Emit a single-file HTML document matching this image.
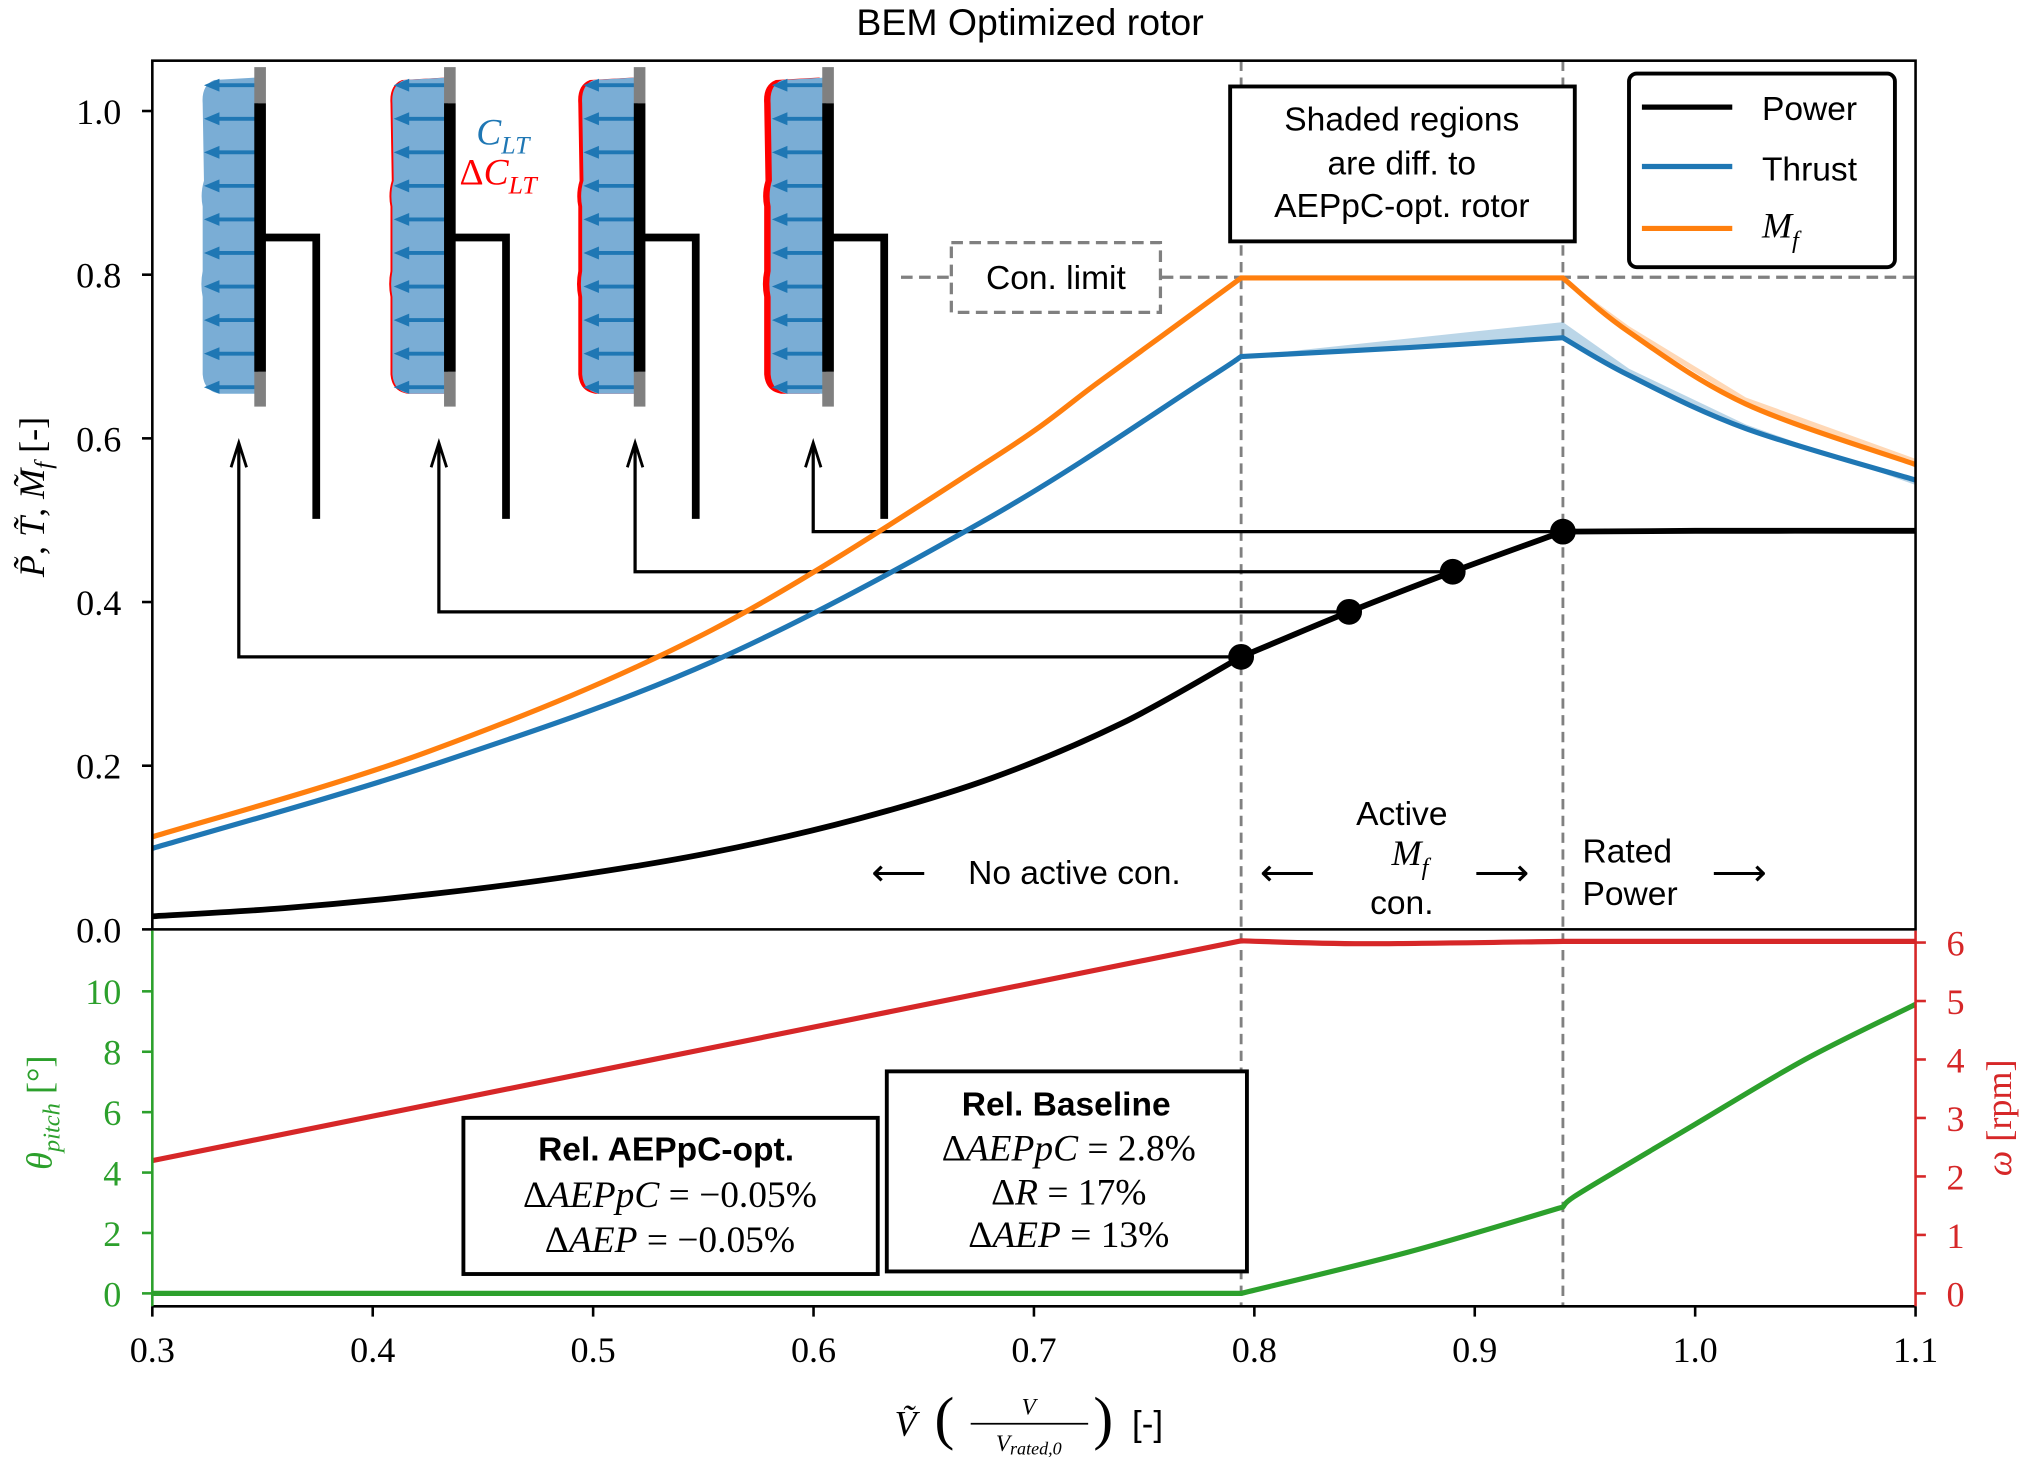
<!DOCTYPE html>
<html><head><meta charset="utf-8"><style>
html,body{margin:0;padding:0;background:#fff;}
svg{display:block;}
.sans{font-family:"Liberation Sans",sans-serif;}
.serif{font-family:"Liberation Serif",serif;}
</style></head><body>
<svg id="chart" xmlns="http://www.w3.org/2000/svg" width="2024" height="1463" viewBox="0 0 1568 1133.4">
<rect x="0" y="0" width="1568" height="1134" fill="#fff"/>
<text class="sans" x="798" y="27" font-size="29" text-anchor="middle">BEM Optimized rotor</text>
<g id="icons"></g>
<g id="plots"></g>
<rect x="953" y="67" width="267" height="120" fill="#fff" stroke="#000" stroke-width="3"/>
<text class="sans" font-size="26" text-anchor="middle"><tspan x="1086" y="101">Shaded regions</tspan><tspan x="1086" y="135">are diff. to</tspan><tspan x="1086" y="168">AEPpC-opt. rotor</tspan></text>
<rect x="737" y="188" width="162" height="54" fill="#fff" stroke="#808080" stroke-width="2.5" stroke-dasharray="9,5"/>
<text class="sans" x="818" y="224" font-size="26" text-anchor="middle">Con. limit</text>
<g>
<rect x="1262" y="57" width="206" height="150" rx="6" fill="#fff" stroke="#000" stroke-width="3"/>
<line x1="1272" y1="83" x2="1342" y2="83" stroke="#000" stroke-width="4"/>
<text class="sans" x="1365" y="93" font-size="26">Power</text>
<line x1="1272" y1="129" x2="1342" y2="129" stroke="#1f77b4" stroke-width="4"/>
<text class="sans" x="1365" y="140" font-size="26">Thrust</text>
<line x1="1272" y1="177" x2="1342" y2="177" stroke="#ff7f0e" stroke-width="4"/>
<text class="serif" x="1365" y="184" font-size="28" font-style="italic">M<tspan font-size="19" dy="8">f</tspan></text>
</g>
<text class="serif" x="369" y="112" font-size="29" font-style="italic" fill="#1f77b4">C<tspan font-size="20" dy="7">LT</tspan></text>
<text class="serif" x="356" y="143" font-size="29" fill="#ff0000"><tspan font-style="normal">Δ</tspan><tspan font-style="italic">C</tspan><tspan font-size="20" dy="7" font-style="italic">LT</tspan></text>
<g class="sans" font-size="26">
<text x="750" y="685">No active con.</text>
<text x="675" y="686" font-size="30">⟵</text>
<text x="1086" y="639" text-anchor="middle">Active</text>
<text class="serif" x="1078" y="670" font-size="28" font-style="italic">M<tspan font-size="19" dy="8">f</tspan></text>
<text x="1086" y="708" text-anchor="middle">con.</text>
<text x="976" y="686" font-size="30">⟵</text>
<text x="1142" y="686" font-size="30">⟶</text>
<text x="1226" y="668">Rated</text>
<text x="1226" y="701">Power</text>
<text x="1326" y="686" font-size="30">⟶</text>
</g>
<rect x="359" y="866" width="321" height="121" fill="#fff" stroke="#000" stroke-width="3"/>
<text class="sans" x="516" y="899" font-size="26" font-weight="bold" text-anchor="middle">Rel.  AEPpC-opt.</text>
<text class="serif" x="519" y="935" font-size="29" text-anchor="middle">Δ<tspan font-style="italic">AEPpC</tspan> = −0.05%</text>
<text class="serif" x="519" y="970" font-size="29" text-anchor="middle">Δ<tspan font-style="italic">AEP</tspan> = −0.05%</text>
<rect x="687" y="830" width="279" height="155" fill="#fff" stroke="#000" stroke-width="3"/>
<text class="sans" x="826" y="864" font-size="26" font-weight="bold" text-anchor="middle">Rel.  Baseline</text>
<text class="serif" x="828" y="899" font-size="29" text-anchor="middle">Δ<tspan font-style="italic">AEPpC</tspan> = 2.8%</text>
<text class="serif" x="828" y="933" font-size="29" text-anchor="middle">Δ<tspan font-style="italic">R</tspan> = 17%</text>
<text class="serif" x="828" y="966" font-size="29" text-anchor="middle">Δ<tspan font-style="italic">AEP</tspan> = 13%</text>
<text class="serif" transform="translate(34,385) rotate(-90)" font-size="28" text-anchor="middle"><tspan font-style="italic">P̃</tspan>, <tspan font-style="italic">T̃</tspan>, <tspan font-style="italic">M̃</tspan><tspan font-style="italic" font-size="19" dy="6">f</tspan><tspan dy="-6"> [-]</tspan></text>
<text class="serif" transform="translate(40,862) rotate(-90)" font-size="28" text-anchor="middle" fill="#2ca02c"><tspan font-style="italic">θ</tspan><tspan font-style="italic" font-size="19" dy="6">pitch</tspan><tspan dy="-6"> [°]</tspan></text>
<text class="serif" transform="translate(1558,866) rotate(-90)" font-size="28" text-anchor="middle" fill="#d62728"><tspan font-style="italic">ω</tspan> [rpm]</text>
<g class="serif" font-size="28">
<text x="693" y="1112" font-style="italic">Ṽ</text>
<text x="724" y="1114" font-size="46">(</text>
<text x="797" y="1096" font-size="18" font-style="italic" text-anchor="middle">V</text>
<line x1="752" y1="1103" x2="843" y2="1103" stroke="#000" stroke-width="1.3"/>
<text x="797" y="1124" font-size="18" font-style="italic" text-anchor="middle">V<tspan font-size="14" dy="3">rated,0</tspan></text>
<text x="847" y="1114" font-size="46">)</text>
<text x="877" y="1112" class="sans" font-size="27">[-]</text>
</g>
</svg>
<script>
// ---------- data ----------
const powerV = [0.3, 0.36, 0.426, 0.49, 0.554, 0.62, 0.681, 0.74, 0.794, 0.843, 0.89, 0.94, 1.0, 1.1];
const powerVals = [0.016, 0.026, 0.043, 0.065, 0.094, 0.135, 0.185, 0.252, 0.333, 0.388, 0.437, 0.486, 0.487, 0.487];
const thrustV = [0.3, 0.426, 0.554, 0.681, 0.776, 0.794, 0.87, 0.94, 0.97, 1.023, 1.1];
const thrustVals = [0.099, 0.200, 0.327, 0.505, 0.668, 0.700, 0.711, 0.723, 0.677, 0.612, 0.549];
const thrustUpper = [0.099, 0.200, 0.327, 0.505, 0.668, 0.700, 0.722, 0.742, 0.685, 0.617, 0.543];
const mfV = [0.3, 0.426, 0.554, 0.681, 0.731, 0.794, 0.87, 0.94, 0.97, 1.023, 1.1];
const mfVals = [0.113, 0.218, 0.366, 0.575, 0.672, 0.796, 0.796, 0.796, 0.730, 0.642, 0.568];
const mfUpper = [0.113, 0.218, 0.366, 0.575, 0.672, 0.796, 0.796, 0.796, 0.737, 0.650, 0.575];
const dotV = [0.794, 0.843, 0.89, 0.94];
const dotP = [0.333, 0.388, 0.437, 0.486];
const omegaV = [0.3, 0.794, 0.85, 0.94, 1.1];
const omegaVals = [2.27, 6.03, 5.98, 6.02, 6.02];
const pitchV = [0.3, 0.794, 0.87, 0.94, 0.945, 0.97, 1.0, 1.05, 1.1];
const pitchVals = [0, 0, 1.37, 2.86, 3.2, 4.3, 5.6, 7.75, 9.57];
const xTicks = [0.3, 0.4, 0.5, 0.6, 0.7, 0.8, 0.9, 1.0, 1.1];
const xTickLabels = ["0.3","0.4","0.5","0.6","0.7","0.8","0.9","1.0","1.1"];
const topTicks = [0, 0.2, 0.4, 0.6, 0.8, 1.0];
const topTickLabels = ["0.0","0.2","0.4","0.6","0.8","1.0"];
const pitchTicks = [0, 2, 4, 6, 8, 10];
const omegaTicks = [0, 1, 2, 3, 4, 5, 6];
const regionBreaks = [0.794, 0.94];
const conLimit = 0.8;

// ---------- axes ----------
const X0 = 118, X1 = 1484;
const xs = v => X0 + (v - 0.3) / 0.8 * (X1 - X0);
const yTop = v => 720 - 634 * v;
const yPitch = v => 1002 - 23.4 * v;
const yOmega = v => 1002 - 45.3 * v;
const NS = "http://www.w3.org/2000/svg";
const plots = document.getElementById('plots');
const icons = document.getElementById('icons');
function mk(tag, attrs, parent) {
  const e = document.createElementNS(NS, tag);
  for (const k in attrs) e.setAttribute(k, attrs[k]);
  (parent || plots).appendChild(e);
  return e;
}
function segPath(pts) {
  let d = "";
  for (let i = 0; i < pts.length - 1; i++) {
    const p0 = pts[Math.max(0, i - 1)], p1 = pts[i], p2 = pts[i + 1], p3 = pts[Math.min(pts.length - 1, i + 2)];
    const c1 = [p1[0] + (p2[0] - p0[0]) / 6, p1[1] + (p2[1] - p0[1]) / 6];
    const c2 = [p2[0] - (p3[0] - p1[0]) / 6, p2[1] - (p3[1] - p1[1]) / 6];
    d += (i === 0 ? "M" + p1[0] + "," + p1[1] : "") + "C" + c1[0] + "," + c1[1] + " " + c2[0] + "," + c2[1] + " " + p2[0] + "," + p2[1];
  }
  return d;
}
function curvePath(vArr, vals, yf) {
  const segs = [[]];
  vArr.forEach((v, i) => {
    const p = [xs(v), yf(vals[i])];
    segs[segs.length - 1].push(p);
    if (regionBreaks.some(b => Math.abs(b - v) < 1e-9) && i < vArr.length - 1) segs.push([p]);
  });
  return segs.map((s, k) => {
    const d = segPath(s);
    return k === 0 ? d : d.replace(/^M[^C]*/, "L" + s[0][0] + "," + s[0][1]);
  }).join("");
}
function bandPath(vArr, lo, hi, yf) {
  let d = "M";
  vArr.forEach((v, i) => { d += xs(v) + "," + yf(hi[i]) + " L"; });
  for (let i = vArr.length - 1; i >= 0; i--) d += xs(vArr[i]) + "," + yf(lo[i]) + (i > 0 ? " L" : "Z");
  return d;
}

regionBreaks.forEach((b, i) => {
  const l = mk('line', {x1: xs(b), y1: 47, x2: xs(b), y2: 1012, stroke: '#808080', 'stroke-width': 2.2, 'stroke-dasharray': '8,5'});
  
  
});
const cl = mk('line', {x1: 900, y1: yTop(conLimit) + 2, x2: X1, y2: yTop(conLimit) + 2, stroke: '#808080', 'stroke-width': 2.5, 'stroke-dasharray': '9,5'});


const cl2 = mk('line', {x1: 698, y1: yTop(conLimit) + 2, x2: 737, y2: yTop(conLimit) + 2, stroke: '#808080', 'stroke-width': 2.5, 'stroke-dasharray': '9,5'});



const tb = mk('path', {d: bandPath(thrustV, thrustVals, thrustUpper, yTop), fill: '#1f77b4', 'fill-opacity': 0.3});


const mb = mk('path', {d: bandPath(mfV, mfVals, mfUpper, yTop), fill: '#ff7f0e', 'fill-opacity': 0.3});



const iconX = [185, 340, 492, 630];
dotV.forEach((v, i) => {
  const y = yTop(dotP[i]);
  const g = mk('path', {d: "M" + xs(v) + "," + y + " L" + iconX[i] + "," + y + " L" + iconX[i] + ",345", fill: 'none', stroke: '#000', 'stroke-width': 2.5});
  
  
  const h = mk('path', {d: "M" + (iconX[i] - 6) + ",362 L" + iconX[i] + ",343 L" + (iconX[i] + 6) + ",362", fill: 'none', stroke: '#000', 'stroke-width': 2.2});
  
  
});

const mfLine = mk('path', {d: curvePath(mfV, mfVals, yTop), fill: 'none', stroke: '#ff7f0e', 'stroke-width': 4});


const thLine = mk('path', {d: curvePath(thrustV, thrustVals, yTop), fill: 'none', stroke: '#1f77b4', 'stroke-width': 4});


const pwLine = mk('path', {d: curvePath(powerV, powerVals, yTop), fill: 'none', stroke: '#000', 'stroke-width': 4.5});


dotV.forEach((v, i) => {
  const c = mk('circle', {cx: xs(v), cy: yTop(dotP[i]), r: 10, fill: '#000'});
  
  
});
const omLine = mk('path', {d: curvePath(omegaV, omegaVals, yOmega), fill: 'none', stroke: '#d62728', 'stroke-width': 4});


const ptLine = mk('path', {d: curvePath(pitchV, pitchVals, yPitch), fill: 'none', stroke: '#2ca02c', 'stroke-width': 4});



const topFrame = mk('rect', {x: X0, y: 47, width: X1 - X0, height: 673, fill: 'none', stroke: '#000', 'stroke-width': 2});


const botSpine = mk('line', {x1: X0, y1: 1012, x2: X1, y2: 1012, stroke: '#000', 'stroke-width': 2});


const lSpine = mk('line', {x1: X0, y1: 721, x2: X0, y2: 1012, stroke: '#2ca02c', 'stroke-width': 2});


const rSpine = mk('line', {x1: X1, y1: 721, x2: X1, y2: 1012, stroke: '#d62728', 'stroke-width': 2});



xTicks.forEach((v, i) => {
  mk('line', {x1: xs(v), y1: 1012, x2: xs(v), y2: 1020, stroke: '#000', 'stroke-width': 2});
  const t = mk('text', {x: xs(v), y: 1055, 'font-size': 28, 'text-anchor': 'middle', class: 'serif'});
  t.textContent = xTickLabels[i];
  
  
});
topTicks.forEach((v, i) => {
  mk('line', {x1: X0 - 8, y1: yTop(v), x2: X0, y2: yTop(v), stroke: '#000', 'stroke-width': 2});
  const t = mk('text', {x: 94, y: yTop(v) + 10, 'font-size': 28, 'text-anchor': 'end', class: 'serif'});
  t.textContent = topTickLabels[i];
  
  
});
pitchTicks.forEach(v => {
  mk('line', {x1: X0 - 8, y1: yPitch(v), x2: X0, y2: yPitch(v), stroke: '#2ca02c', 'stroke-width': 2});
  const t = mk('text', {x: 94, y: yPitch(v) + 10, 'font-size': 28, 'text-anchor': 'end', class: 'serif', fill: '#2ca02c'});
  t.textContent = String(v);
  
  
});
omegaTicks.forEach(v => {
  mk('line', {x1: X1, y1: yOmega(v), x2: X1 + 8, y2: yOmega(v), stroke: '#d62728', 'stroke-width': 2});
  const t = mk('text', {x: 1508, y: yOmega(v) + 10, 'font-size': 28, class: 'serif', fill: '#d62728'});
  t.textContent = String(v);
  
  
});

const iconCenters = [200, 347, 494, 640];
const redWidth = [0, 1.5, 3, 5];
iconCenters.forEach((cx, i) => {
  const g = mk('g', {}, icons);
  
  
  const L = cx - 44;
  const shape = "M" + cx + ",60 L" + (L + 10) + ",62 Q" + L + ",66 " + (L + 1) + ",80 L" + (L + 2) + ",140 Q" + (L - 1) + ",150 " + (L + 1) + ",160 L" + (L + 1) + ",210 Q" + (L - 1) + ",220 " + (L + 1) + ",230 L" + (L + 1) + ",290 Q" + (L + 2) + ",303 " + (L + 14) + ",305 L" + cx + ",305 Z";
  if (redWidth[i] > 0) {
    mk('path', {d: shape, fill: '#ff0000', transform: 'translate(' + (-redWidth[i]) + ',0)'}, g);
  }
  mk('path', {d: shape, fill: '#7aadd5'}, g);
  for (let k = 0; k < 10; k++) {
    const y = 66 + k * 26;
    mk('line', {x1: cx, y1: y, x2: L + 10, y2: y, stroke: '#1f77b4', 'stroke-width': 3}, g);
    mk('path', {d: "M" + (L + 2) + "," + y + " L" + (L + 14) + "," + (y - 5) + " L" + (L + 14) + "," + (y + 5) + "Z", fill: '#1f77b4'}, g);
  }
  mk('rect', {x: cx - 3, y: 52, width: 9, height: 28, fill: '#808080'}, g);
  mk('rect', {x: cx - 3, y: 288, width: 9, height: 27, fill: '#808080'}, g);
  mk('rect', {x: cx - 3, y: 80, width: 9, height: 208, fill: '#000'}, g);
  mk('path', {d: "M" + cx + ",184 L" + (cx + 45) + ",184 L" + (cx + 45) + ",402", fill: 'none', stroke: '#000', 'stroke-width': 6}, g);
});
</script>
</body></html>
